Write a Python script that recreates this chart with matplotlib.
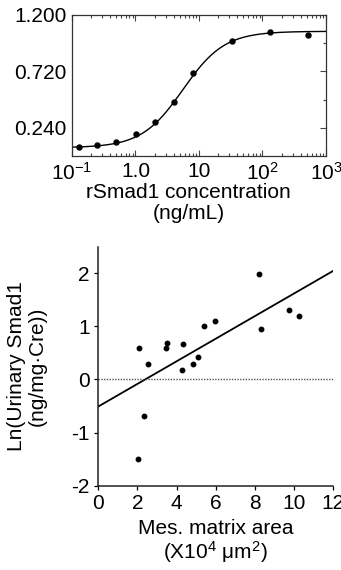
import numpy as np
import matplotlib
matplotlib.use("Agg")
import matplotlib.pyplot as plt

plt.rcParams['font.family'] = ['Liberation Sans', 'DejaVu Sans']
plt.rcParams['mathtext.fontset'] = 'custom'
plt.rcParams['mathtext.rm'] = 'Liberation Sans'
plt.rcParams['mathtext.it'] = 'Liberation Sans:italic'
plt.rcParams['axes.unicode_minus'] = False

# standard curve (rSmad1 ng/mL vs OD)
conc = [0.13, 0.25, 0.5, 1.03, 2.05, 4.0, 8.1, 33, 129, 520]
od = [0.079, 0.096, 0.122, 0.185, 0.292, 0.457, 0.709, 0.981, 1.055, 1.027]
# 4-parameter logistic fit
fit_bottom, fit_top, fit_ec50, fit_hill = 0.072, 1.06, 5.6, 1.33

# urinary Smad1 vs mesangial matrix area
area = [2.04, 2.09, 2.33, 2.52, 3.46, 3.52, 4.27, 4.32, 4.85, 5.1, 5.41, 5.96,
        8.19, 8.29, 9.75, 10.28]
ln_smad1 = [-1.50, 0.60, -0.69, 0.30, 0.59, 0.68, 0.17, 0.67, 0.30, 0.43, 1.00, 1.11,
            1.99, 0.95, 1.31, 1.19]
reg_intercept, reg_slope = -0.51, 0.213

fs = 15
fig = plt.figure(figsize=(3.41, 5.70), dpi=100)

# ---- top panel ----
ax1 = fig.add_axes([0.211, 0.726, 0.745, 0.248])
ax1.set_xscale('log')
xs = np.logspace(-1, 3, 300)
ys = fit_bottom + (fit_top - fit_bottom) / (1 + (fit_ec50 / xs) ** fit_hill)
ax1.plot(xs, ys, color='black', lw=1.0)
ax1.plot(conc, od, 'o', color='black', ms=3.6)
ax1.set_xlim(0.1, 1000)
ax1.set_ylim(0, 1.2)
ax1.set_xticks([0.1, 1, 10, 100, 1000])
ax1.set_xticklabels([r'10$^{-1}$', '1.0', '10', r'10$^{2}$', r'10$^{3}$'])
ax1.set_yticks([0.24, 0.72, 1.2])
ax1.set_yticklabels(['0.240', '0.720', '1.200'])
ax1.set_yticks([0.48, 0.96], minor=True)
ax1.tick_params(which='both', direction='in', top=True, right=True,
                labelsize=fs, width=0.8, color='#444444')
ax1.tick_params(which='major', length=4, pad=4)
ax1.tick_params(which='minor', length=2)
ax1.tick_params(axis='y', which='both', left=False)
for s in ax1.spines.values():
    s.set_linewidth(0.9)
    s.set_color('#333333')
ax1.set_xlabel('rSmad1 concentration\n(ng/mL)', fontsize=fs, linespacing=1.1)
ax1.xaxis.set_label_coords(0.46, -0.19, transform=ax1.transAxes)
ax1.xaxis.label.set_va('top')

# ---- bottom panel ----
ax2 = fig.add_axes([0.288, 0.148, 0.689, 0.419])
ax2.plot(area, ln_smad1, 'o', color='black', ms=3.2)
xl = np.array([0, 12])
ax2.plot(xl, reg_intercept + reg_slope * xl, color='black', lw=1.3)
ax2.axhline(0, color='#555555', lw=1.0, ls=(0, (1, 1)))
ax2.set_xlim(0, 12)
ax2.set_ylim(-2, 2.5)
ax2.set_xticks(range(0, 13, 2))
ax2.set_yticks([-2, -1, 0, 1, 2])
ax2.spines['top'].set_visible(False)
ax2.spines['right'].set_visible(False)
for s in ('left', 'bottom'):
    ax2.spines[s].set_linewidth(1.1)
    ax2.spines[s].set_color('#222222')
ax2.tick_params(direction='out', length=3, width=0.9, labelsize=fs, pad=3)
ax2.set_xlabel('Mes. matrix area\n(X10$^{4}$ \u03bcm$^{2}$)', fontsize=fs, linespacing=1.1)
ax2.set_ylabel('Ln(Urinary Smad1\n(ng/mg\u00b7Cre))', fontsize=fs, linespacing=1.1)
ax2.yaxis.set_label_coords(-0.22, 0.5, transform=ax2.transAxes)

fig.savefig('out.png', dpi=100)
